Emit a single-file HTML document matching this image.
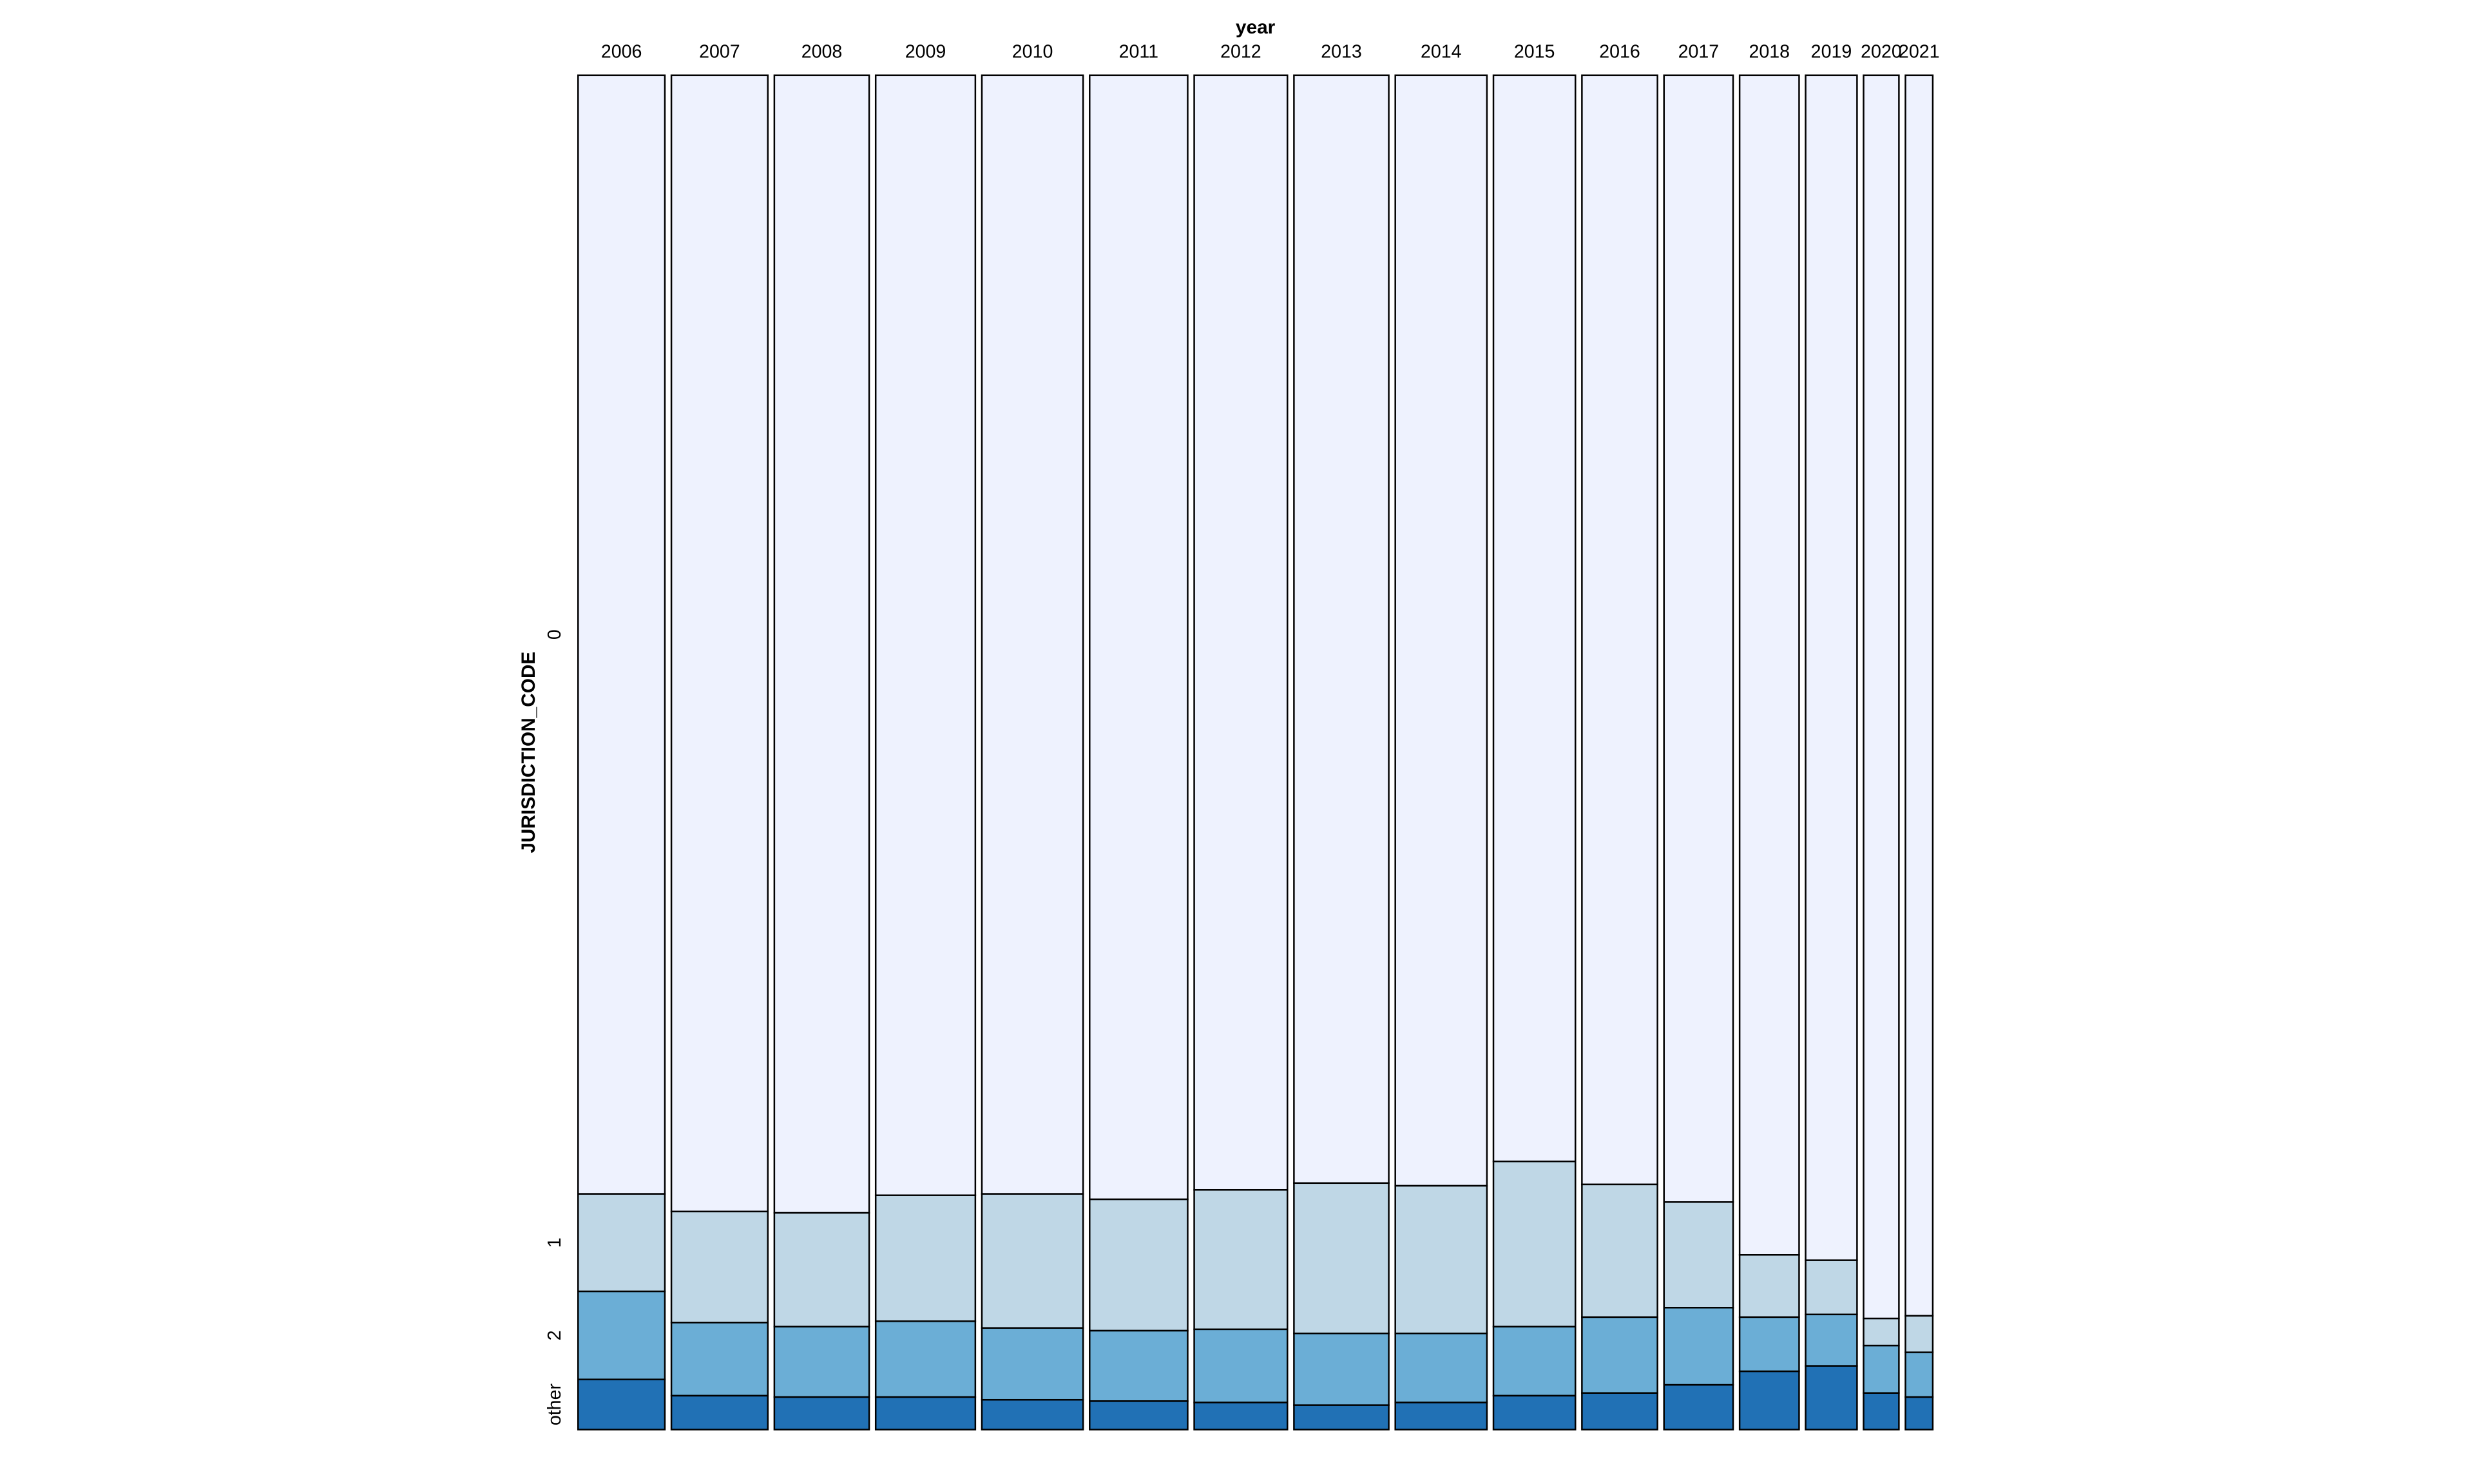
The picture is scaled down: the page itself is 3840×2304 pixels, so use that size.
<!DOCTYPE html>
<html><head><meta charset="utf-8"><style>html,body{margin:0;padding:0;background:#fff}svg{display:block}</style></head>
<body>
<svg id="chart" xmlns="http://www.w3.org/2000/svg" width="3840" height="2304" viewBox="0 0 1545 927" font-family="Liberation Sans, Arial, sans-serif">
<rect width="1545" height="927" fill="#fff"/>
<text x="784" y="21" text-anchor="middle" font-size="12" font-weight="bold">year</text>
<text transform="translate(334,470) rotate(-90)" text-anchor="middle" font-size="12" font-weight="bold">JURISDICTION_CODE</text>
<g id="bars"></g>
</svg>
<script>
const years = ["2006","2007","2008","2009","2010","2011","2012","2013","2014","2015","2016","2017","2018","2019","2020","2021"];
const yearCounts = [54,60,59,62,63,61,58,59,57,51,47,43,37,32,22,17];
const categories = ["0","1","2","other"];
const shareOther = [3.7,2.5,2.4,2.4,2.2,2.1,2.0,1.8,2.0,2.5,2.7,3.3,4.3,4.7,2.7,2.4];
const share2 = [6.5,5.4,5.2,5.6,5.3,5.2,5.4,5.3,5.1,5.1,5.6,5.7,4.0,3.8,3.5,3.3];
const share1 = [7.2,8.2,8.4,9.3,9.9,9.7,10.3,11.1,10.9,12.2,9.8,7.8,4.6,4.0,2.0,2.7];
const colors = ["#eef2fe","#bfd7e6","#6baed6","#2171b5"];
const NS = "http://www.w3.org/2000/svg";
const barGroup = document.getElementById("bars");
const plotLeft = 361, plotRight = 1207, plotTop = 47, plotBottom = 893, barGap = 4.07;
const totalCount = yearCounts.reduce((a,b)=>a+b,0);
const availW = (plotRight-plotLeft) - barGap*(years.length-1);
const xw = c => c/totalCount*availW;
const yh = p => p/100*(plotBottom-plotTop);
let curX = plotLeft;
years.forEach((yr,i)=>{
  const w = xw(yearCounts[i]);
  const share0 = 100 - shareOther[i] - share2[i] - share1[i];
  const shares = [share0, share1[i], share2[i], shareOther[i]];
  let curY = plotTop;
  shares.forEach((s,k)=>{
    const h = yh(s);
    const r = document.createElementNS(NS,"rect");
    r.setAttribute("x",curX); r.setAttribute("y",curY);
    r.setAttribute("width",w); r.setAttribute("height",h);
    r.setAttribute("fill",colors[k]); r.setAttribute("stroke","#000"); r.setAttribute("stroke-width","1");
    
    
    barGroup.appendChild(r);
    if(i===0){
      const t = document.createElementNS(NS,"text");
      t.setAttribute("transform","translate(350,"+(curY+h/2)+") rotate(-90)");
      t.setAttribute("text-anchor","middle"); t.setAttribute("font-size","11.5");
      t.textContent = categories[k];
      
      
      barGroup.appendChild(t);
    }
    curY += h;
  });
  const t = document.createElementNS(NS,"text");
  t.setAttribute("x", curX + w/2); t.setAttribute("y", 36);
  t.setAttribute("text-anchor","middle"); t.setAttribute("font-size","11.5");
  t.textContent = yr;
  
  
  barGroup.appendChild(t);
  curX += w + barGap;
});
</script>
</body></html>
